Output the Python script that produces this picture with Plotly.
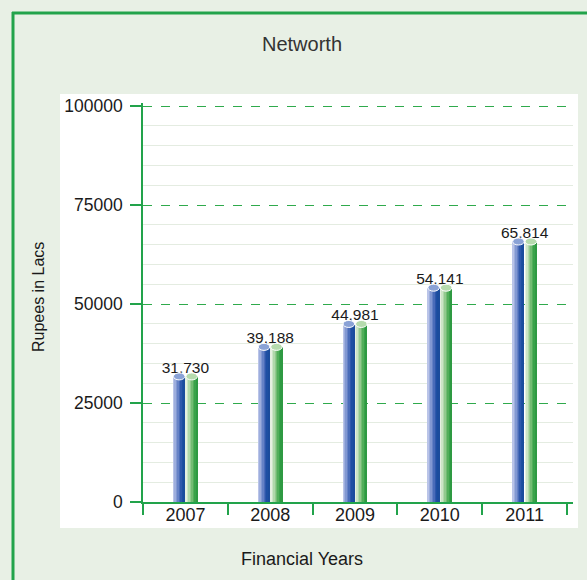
import plotly.graph_objects as go

# ---------------- data ----------------
years = ["2007", "2008", "2009", "2010", "2011"]
networth = [31730, 39188, 44981, 54141, 65814]
y_tick_vals = [0, 25000, 50000, 75000, 100000]
y_tick_text = ["0", "25000", "50000", "75000", "100000"]

chart_title = "Networth"
x_title = "Financial Years"
y_title = "Rupees in Lacs"

# ---------------- layout geometry ----------------
W, H = 587, 580
L, R, T, B = 143, 14, 103, 78
PW = W - L - R
PH = H - T - B


def px(x):
    return (x - L) / PW


def py(y):
    return (H - B - y) / PH


FONT = "Liberation Sans, Arial, sans-serif"
GREEN = "#22A34B"
BG = "#E8F0E5"

blue_shades = ["#BAC4E8", "#9EAEDD", "#8298D2", "#6682C6", "#4A6CB9", "#2F58AC", "#1E4FA3", "#1B4C9D"]
green_shades = ["#E6F0E0", "#CCE5C6", "#B0D8AA", "#92CA8E", "#72BC72", "#52AE5A", "#3AA24A", "#2E9A42"]

BAR_W = 0.136
series = [(blue_shades, -0.141, "#8AA2D6"), (green_shades, 0.006, "#B6DBAE")]

fig = go.Figure()

for shades, off0, _cap in series:
    n = len(shades)
    sw = BAR_W / n
    for k, c in enumerate(shades):
        fig.add_trace(go.Bar(
            x=years, y=networth,
            width=sw + 0.003, offset=off0 + k * sw,
            marker=dict(color=c, line=dict(width=0)),
            hoverinfo="skip", showlegend=False,
        ))

# value labels
fig.add_trace(go.Scatter(
    x=years, y=networth, mode="text",
    text=[f"{v:,}" for v in networth],
    textposition="top center",
    textfont=dict(family=FONT, size=15.5, color="#1a1a1a"),
    hoverinfo="skip", showlegend=False,
))

shapes = []
# white panel
shapes.append(dict(type="rect", xref="paper", yref="paper",
                   x0=px(60), x1=px(578), y0=py(528), y1=py(94),
                   fillcolor="white", line=dict(width=0), layer="below"))
# green border (top and left)
shapes.append(dict(type="line", xref="paper", yref="paper",
                   x0=px(12), x1=px(600), y0=py(13), y1=py(13),
                   line=dict(color=GREEN, width=3)))
shapes.append(dict(type="line", xref="paper", yref="paper",
                   x0=px(13), x1=px(13), y0=py(12), y1=py(600),
                   line=dict(color=GREEN, width=3)))

# cylinder caps
for shades, off0, cap in series:
    for i, v in enumerate(networth):
        shapes.append(dict(type="circle", xref="x", yref="y",
                           x0=i + off0, x1=i + off0 + BAR_W,
                           ysizemode="pixel", yanchor=v, y0=-3.5, y1=3.5,
                           fillcolor=cap, line=dict(color="white", width=1),
                           layer="above"))

annotations = [
    dict(text=chart_title, xref="paper", yref="paper", x=px(302), y=py(44),
         showarrow=False, xanchor="center", yanchor="middle",
         font=dict(family=FONT, size=20, color="#333333")),
    dict(text=x_title, xref="paper", yref="paper", x=px(302), y=py(559),
         showarrow=False, xanchor="center", yanchor="middle",
         font=dict(family=FONT, size=18, color="#1a1a1a")),
    dict(text=y_title, xref="paper", yref="paper", x=px(38), y=py(297),
         showarrow=False, xanchor="center", yanchor="middle", textangle=-90,
         font=dict(family=FONT, size=16, color="#1a1a1a")),
]

minor_vals = [v for v in range(5000, 100001, 5000) if v % 25000]

fig.update_layout(
    width=W, height=H,
    margin=dict(l=L, r=R, t=T, b=B, pad=0),
    paper_bgcolor=BG, plot_bgcolor="white",
    barmode="overlay", bargap=0,
    showlegend=False,
    shapes=shapes, annotations=annotations,
    font=dict(family=FONT, color="#1a1a1a"),
    xaxis=dict(
        type="category", range=[-0.5, 4.57], tickson="boundaries",
        ticks="outside", ticklen=11, tickwidth=1.5, tickcolor=GREEN,
        showline=True, linecolor=GREEN, linewidth=1.5,
        showgrid=False, zeroline=False,
        tickfont=dict(family=FONT, size=18, color="#1a1a1a"),
        ticklabelstandoff=-4,
        fixedrange=True,
    ),
    yaxis=dict(
        range=[0, 100800], tickmode="array",
        tickvals=y_tick_vals, ticktext=y_tick_text,
        ticks="outside", ticklen=11, tickwidth=1.5, tickcolor=GREEN,
        showline=True, linecolor=GREEN, linewidth=1.5,
        showgrid=True, gridcolor="#2FAA4C", gridwidth=1.2, griddash="dash",
        zeroline=False,
        minor=dict(tickmode="array", tickvals=minor_vals, showgrid=True,
                   gridcolor="#E4ECE1", gridwidth=1, griddash="solid", ticks=""),
        tickfont=dict(family=FONT, size=17.5, color="#1a1a1a"),
        ticklabelstandoff=4,
        fixedrange=True,
    ),
)

fig.write_html("out.html")
